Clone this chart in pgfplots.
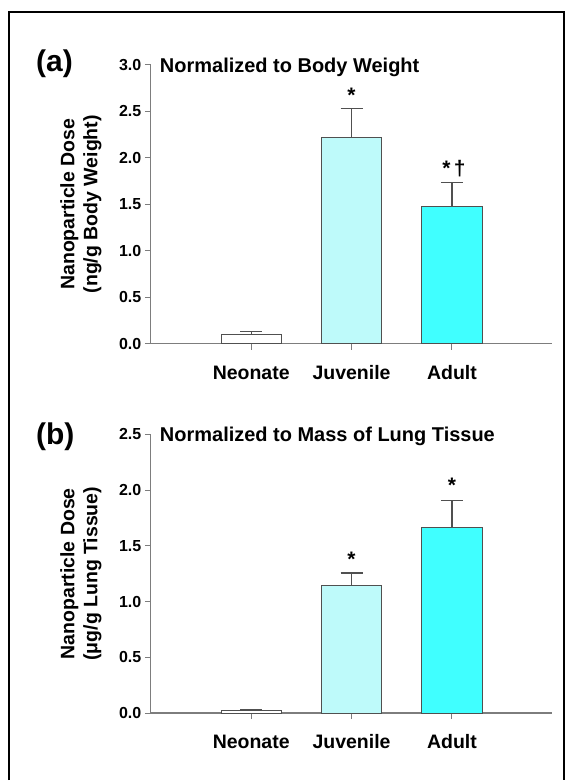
\documentclass[border=0pt]{standalone}
\usepackage{pgfplots}
\pgfplotsset{compat=1.18}
\usepackage{fontspec}
\setmainfont{Liberation Sans}
\definecolor{juv}{RGB}{190,250,250}
\definecolor{adu}{RGB}{64,255,255}
\definecolor{edge}{RGB}{80,80,80}
\definecolor{axgray}{RGB}{125,125,125}
\pgfplotsset{panel/.style={
  scale only axis, width=402pt, height=279pt,
  xmin=0, xmax=4, ymin=0,
  axis lines=left, axis line style={-, axgray, line width=1.2pt},
  xtick={1,2,3}, xticklabels={Neonate,Juvenile,Adult},
  tick align=outside, major tick length=6pt, tick style={axgray, line width=1pt},
  yticklabel style={font=\bfseries\fontsize{16}{16}\selectfont},
  xticklabel style={font=\bfseries\fontsize{19.5}{19.5}\selectfont, text height=14pt, text depth=4pt, yshift=-12pt},
  /pgf/number format/.cd, fixed, fixed zerofill, precision=1, assume math mode=true, /pgfplots/.cd,
  ytick distance=0.5,
  ybar, bar width=0.6, bar shift=0pt,
  error bars/y dir=plus, error bars/y explicit,
  error bars/error bar style={edge, line width=1.3pt},
  error bars/error mark options={edge, line width=1.3pt, mark size=11pt, rotate=90},
  ylabel style={align=center, font=\bfseries\fontsize{19.5}{23}\selectfont, at={(axis description cs:-0.174,0.5)}, anchor=center},
  clip=false,
}}
\tikzset{star/.style={font=\bfseries\fontsize{21}{21}\selectfont, anchor=base, inner sep=0pt, yshift=4pt}}
\begin{document}
\begin{tikzpicture}[x=1pt,y=1pt]
\path (0,0) rectangle (574,781);
\draw[line width=2pt] (9,0) -- (9,769) -- (565,769) -- (565,0);
% Panel (a)
\node[anchor=base west, inner sep=0pt, font=\bfseries\fontsize{30}{30}\selectfont] at (36,709) {(a)};
\begin{axis}[panel, at={(151pt,437pt)}, anchor=south west, ymax=3,
  ylabel={Nanoparticle Dose\\(ng/g Body Weight)}]
\addplot[fill=white, draw=edge, line width=0.9pt] coordinates {(1,0.097) +- (0,0.033)};
\addplot[fill=juv, draw=edge, line width=0.9pt] coordinates {(2,2.222) +- (0,0.308)};
\addplot[fill=adu, draw=edge, line width=0.9pt] coordinates {(3,1.473) +- (0,0.258)};
\node[anchor=base west, inner sep=0pt, font=\bfseries\fontsize{20}{20}\selectfont] at (rel axis cs:0,1) [xshift=9pt, yshift=-8pt] {Normalized to Body Weight};
\node[star] at (axis cs:2,2.55) {*};
\node[star] at (axis cs:3.02,1.77) {*\,†};
\end{axis}
% Panel (b)
\node[anchor=base west, inner sep=0pt, font=\bfseries\fontsize{30}{30}\selectfont] at (36,336) {(b)};
\begin{axis}[panel, at={(151pt,67pt)}, anchor=south west, ymax=2.5,
  ylabel={Nanoparticle Dose\\(μg/g Lung Tissue)}]
\addplot[fill=white, draw=edge, line width=0.9pt] coordinates {(1,0.02) +- (0,0.01)};
\addplot[fill=juv, draw=edge, line width=0.9pt] coordinates {(2,1.149) +- (0,0.107)};
\addplot[fill=adu, draw=edge, line width=0.9pt] coordinates {(3,1.668) +- (0,0.241)};
\node[anchor=base west, inner sep=0pt, font=\bfseries\fontsize{20}{20}\selectfont] at (rel axis cs:0,1) [xshift=9pt, yshift=-7pt] {Normalized to Mass of Lung Tissue};
\node[star] at (axis cs:2,1.28) {*};
\node[star] at (axis cs:3,1.944) {*};
\end{axis}
\end{tikzpicture}
\end{document}
